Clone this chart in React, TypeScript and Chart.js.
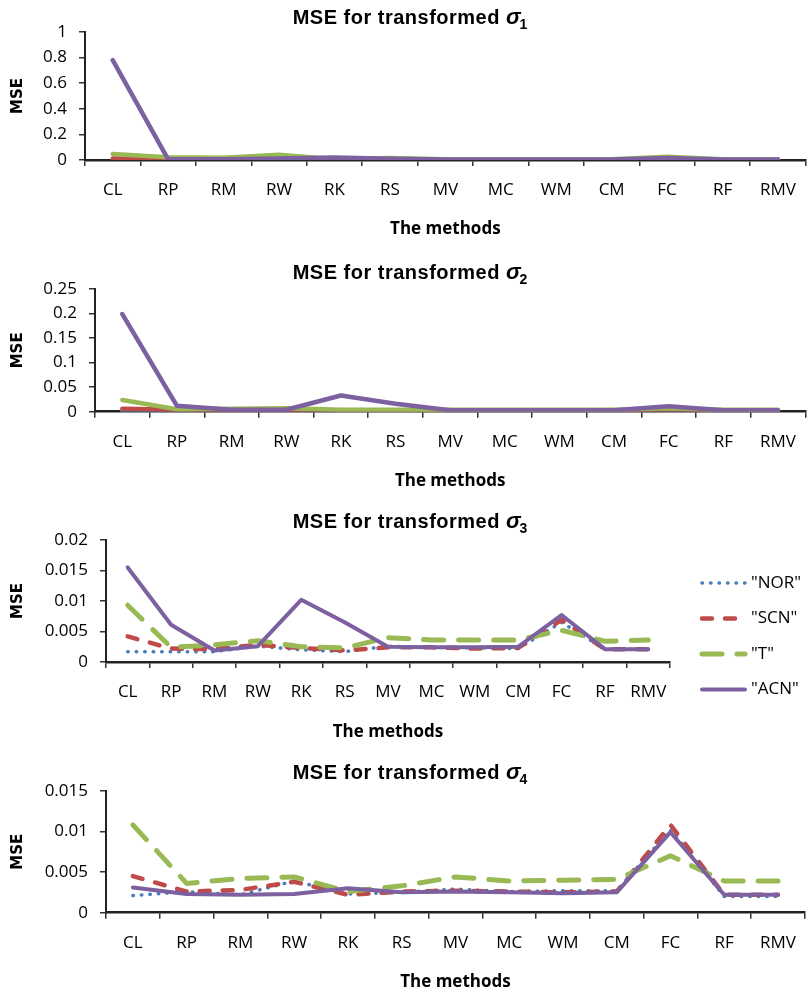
import React, { useEffect, useRef } from "react";
import { Chart, registerables } from "chart.js";

Chart.register(...registerables);

const categories = ["CL", "RP", "RM", "RW", "RK", "RS", "MV", "MC", "WM", "CM", "FC", "RF", "RMV"];
const seriesNames = ['"NOR"', '"SCN"', '"T"', '"ACN"'];

// sigma 1
const nor1 = [0.003, 0.003, 0.003, 0.003, 0.003, 0.003, 0.002, 0.002, 0.002, 0.002, 0.004, 0.002, 0.002];
const scn1 = [0.012, 0.004, 0.003, 0.004, 0.003, 0.003, 0.002, 0.002, 0.002, 0.002, 0.006, 0.002, 0.002];
const t1 = [0.047, 0.022, 0.018, 0.042, 0.005, 0.016, 0.006, 0.005, 0.005, 0.005, 0.026, 0.006, 0.006];
const acn1 = [0.78, 0.005, 0.006, 0.012, 0.02, 0.01, 0.004, 0.004, 0.004, 0.004, 0.015, 0.003, 0.003];

// sigma 2
const nor2 = [0.001, 0.001, 0.001, 0.002, 0.001, 0.001, 0.002, 0.002, 0.002, 0.002, 0.004, 0.002, 0.002];
const scn2 = [0.006, 0.004, 0.002, 0.002, 0.002, 0.002, 0.002, 0.002, 0.002, 0.002, 0.005, 0.002, 0.002];
const t2 = [0.024, 0.005, 0.006, 0.007, 0.004, 0.004, 0.004, 0.004, 0.004, 0.004, 0.007, 0.004, 0.004];
const acn2 = [0.199, 0.012, 0.004, 0.004, 0.033, 0.016, 0.003, 0.003, 0.003, 0.003, 0.011, 0.003, 0.003];

// sigma 3
const nor3 = [0.0017, 0.0017, 0.0017, 0.0026, 0.002, 0.0017, 0.0026, 0.0024, 0.0023, 0.0022, 0.0065, 0.0021, 0.0021];
const scn3 = [0.0042, 0.0022, 0.0021, 0.0028, 0.0023, 0.0019, 0.0024, 0.0024, 0.0022, 0.0023, 0.0069, 0.0021, 0.0021];
const t3 = [0.0093, 0.0024, 0.0028, 0.0035, 0.0025, 0.0023, 0.004, 0.0036, 0.0036, 0.0036, 0.0052, 0.0034, 0.0036];
const acn3 = [0.0155, 0.0061, 0.0019, 0.0026, 0.0102, 0.0065, 0.0025, 0.0024, 0.0024, 0.0025, 0.0077, 0.0021, 0.0021];

// sigma 4
const nor4 = [0.0021, 0.0026, 0.0022, 0.0039, 0.0023, 0.0025, 0.0029, 0.0026, 0.0027, 0.0027, 0.0102, 0.002, 0.002];
const scn4 = [0.0045, 0.0026, 0.0028, 0.0038, 0.0022, 0.0026, 0.0027, 0.0026, 0.0025, 0.0026, 0.0108, 0.0022, 0.0022];
const t4 = [0.0108, 0.0036, 0.0042, 0.0044, 0.0026, 0.0033, 0.0044, 0.0039, 0.004, 0.0041, 0.007, 0.0039, 0.0039];
const acn4 = [0.0031, 0.0023, 0.0022, 0.0023, 0.003, 0.0025, 0.0026, 0.0025, 0.0024, 0.0025, 0.0099, 0.0022, 0.0022];

const colors = ["#4a7ebb", "#be4b48", "#98b954", "#7d60a0"];
const dashed = [
  { width: 3.5, dash: [0.5, 8] },
  { width: 4.5, dash: [10, 13] },
  { width: 5, dash: [20, 15] },
  { width: 4, dash: [] as number[] },
];

const TICK_FONT = { family: "'Open Sans', sans-serif", size: 17 };

type PanelCfg = {
  top: number;
  height: number;
  left: number;
  right: number;
  chartTop: number;
  chartBottom: number;
  max: number;
  step: number;
  sub: string;
  series: number[][];
  styled: boolean;
  legend: boolean;
  titleBaseline: number;
  xTitlePad: number;
};

const panels: PanelCfg[] = [
  { top: 0, height: 250, left: 85, right: 808, chartTop: 32, chartBottom: 160, max: 1, step: 0.2, sub: "1",
    series: [nor1, scn1, t1, acn1], styled: false, legend: false, titleBaseline: 24, xTitlePad: 11 },
  { top: 250, height: 250, left: 95, right: 808, chartTop: 39, chartBottom: 161.7, max: 0.25, step: 0.05, sub: "2",
    series: [nor2, scn2, t2, acn2], styled: false, legend: false, titleBaseline: 29, xTitlePad: 9 },
  { top: 500, height: 250, left: 106, right: 670, chartTop: 40, chartBottom: 162, max: 0.02, step: 0.005, sub: "3",
    series: [nor3, scn3, t3, acn3], styled: true, legend: true, titleBaseline: 28, xTitlePad: 8 },
  { top: 750, height: 242, left: 106, right: 808, chartTop: 40.7, chartBottom: 162.7, max: 0.015, step: 0.005, sub: "4",
    series: [nor4, scn4, t4, acn4], styled: true, legend: false, titleBaseline: 29, xTitlePad: 0 },
];

function makeTitlePlugin(sub: string, baseline: number) {
  return {
    id: "sigmaTitle",
    afterDraw(chart: any) {
      const ctx = chart.ctx as CanvasRenderingContext2D;
      ctx.save();
      ctx.fillStyle = "#000";
      ctx.textBaseline = "alphabetic";
      ctx.textAlign = "left";
      const main = "MSE for transformed ";
      const f1 = "bold 20px 'Liberation Sans', Arial, sans-serif";
      const f2 = "italic bold 22px 'Liberation Sans', Arial, sans-serif";
      const f3 = "bold 14px 'Liberation Sans', Arial, sans-serif";
      (ctx as any).letterSpacing = "0.5px";
      ctx.font = f1;
      const w1 = ctx.measureText(main).width;
      (ctx as any).letterSpacing = "0px";
      ctx.font = f2;
      const w2 = ctx.measureText("σ").width;
      ctx.font = f3;
      const w3 = ctx.measureText(sub).width;
      const total = w1 + w2 + w3;
      let x = 410.5 - total / 2;
      (ctx as any).letterSpacing = "0.5px";
      ctx.font = f1;
      ctx.fillText(main, x, baseline);
      (ctx as any).letterSpacing = "0px";
      x += w1;
      ctx.font = f2;
      ctx.fillText("σ", x, baseline);
      x += w2 - 1;
      ctx.font = f3;
      ctx.fillText(sub, x, baseline + 5);
      ctx.restore();
    },
  };
}

const legendPlugin = {
  id: "sideLegend",
  afterDraw(chart: any) {
    const ctx = chart.ctx as CanvasRenderingContext2D;
    ctx.save();
    chart.data.datasets.forEach((ds: any, i: number) => {
      const y = 83 + i * 35.5;
      ctx.beginPath();
      ctx.strokeStyle = ds.borderColor;
      ctx.lineWidth = ds.borderWidth;
      ctx.lineCap = "round";
      ctx.setLineDash(ds.borderDash || []);
      ctx.moveTo(702, y);
      ctx.lineTo(745, y);
      ctx.stroke();
      ctx.setLineDash([]);
      ctx.fillStyle = "#000";
      ctx.font = "17px 'Open Sans', sans-serif";
      ctx.textBaseline = "middle";
      ctx.textAlign = "left";
      ctx.fillText(ds.label, 751, y);
    });
    ctx.restore();
  },
};

function Panel({ cfg }: { cfg: PanelCfg }) {
  const ref = useRef<HTMLCanvasElement | null>(null);
  useEffect(() => {
    if (!ref.current) return;
    const datasets = cfg.series.map((vals, i) => ({
      label: seriesNames[i],
      data: vals,
      borderColor: colors[i],
      backgroundColor: colors[i],
      borderWidth: cfg.styled ? dashed[i].width : 4.5,
      borderDash: cfg.styled ? dashed[i].dash : [],
      borderCapStyle: "round" as const,
      borderJoinStyle: "round" as const,
      pointRadius: 0,
      tension: 0,
      fill: false,
      order: 3 - i,
    }));
    const plugins: any[] = [makeTitlePlugin(cfg.sub, cfg.titleBaseline)];
    if (cfg.legend) plugins.push(legendPlugin);
    const chart = new Chart(ref.current, {
      type: "line",
      data: { labels: categories, datasets },
      plugins,
      options: {
        responsive: false,
        animation: false,
        devicePixelRatio: 1,
        layout: { padding: { top: cfg.chartTop, right: 810 - cfg.right, left: 0, bottom: 0 } },
        plugins: {
          legend: { display: false },
          tooltip: { enabled: false },
          title: { display: false },
        },
        scales: {
          x: {
            type: "category",
            offset: true,
            grid: {
              offset: true,
              drawOnChartArea: false,
              drawTicks: true,
              tickLength: 6,
              color: "#333",
              lineWidth: 1.5,
            },
            border: { display: true, color: "#222", width: 2.5 },
            ticks: { padding: 14, color: "#000", font: TICK_FONT, maxRotation: 0, autoSkip: false },
            title: {
              display: true,
              text: "The methods",
              color: "#000",
              font: { family: "'Open Sans', sans-serif", size: 17, weight: "bold" },
              padding: { top: 0, bottom: cfg.xTitlePad },
            },
            afterFit: (s: any) => {
              s.height = cfg.height - cfg.chartBottom;
            },
          },
          y: {
            min: 0,
            max: cfg.max,
            ticks: {
              stepSize: cfg.step,
              padding: 12,
              color: "#000",
              font: TICK_FONT,
              callback: (v: any) => String(+Number(v).toFixed(4)),
            },
            grid: { drawOnChartArea: false, drawTicks: true, tickLength: 6, color: "#333", lineWidth: 1.5 },
            border: { display: true, color: "#222", width: 2 },
            title: {
              display: true,
              text: "MSE",
              color: "#000",
              font: { family: "'DejaVu Sans', sans-serif", size: 15, weight: "bold" },
              padding: { top: 9, bottom: 0 },
            },
            afterFit: (s: any) => {
              s.width = cfg.left;
            },
          },
        },
      } as any,
    });
    return () => chart.destroy();
  }, [cfg]);
  return (
    <div style={{ position: "absolute", left: 0, top: cfg.top, width: 810, height: cfg.height }}>
      <canvas ref={ref} width={810} height={cfg.height} style={{ display: "block" }} />
    </div>
  );
}

export default function App() {
  return (
    <div style={{ position: "absolute", left: 0, top: 0, width: 810, height: 992, background: "#fff" }}>
      {panels.map((p, i) => (
        <Panel key={i} cfg={p} />
      ))}
    </div>
  );
}
